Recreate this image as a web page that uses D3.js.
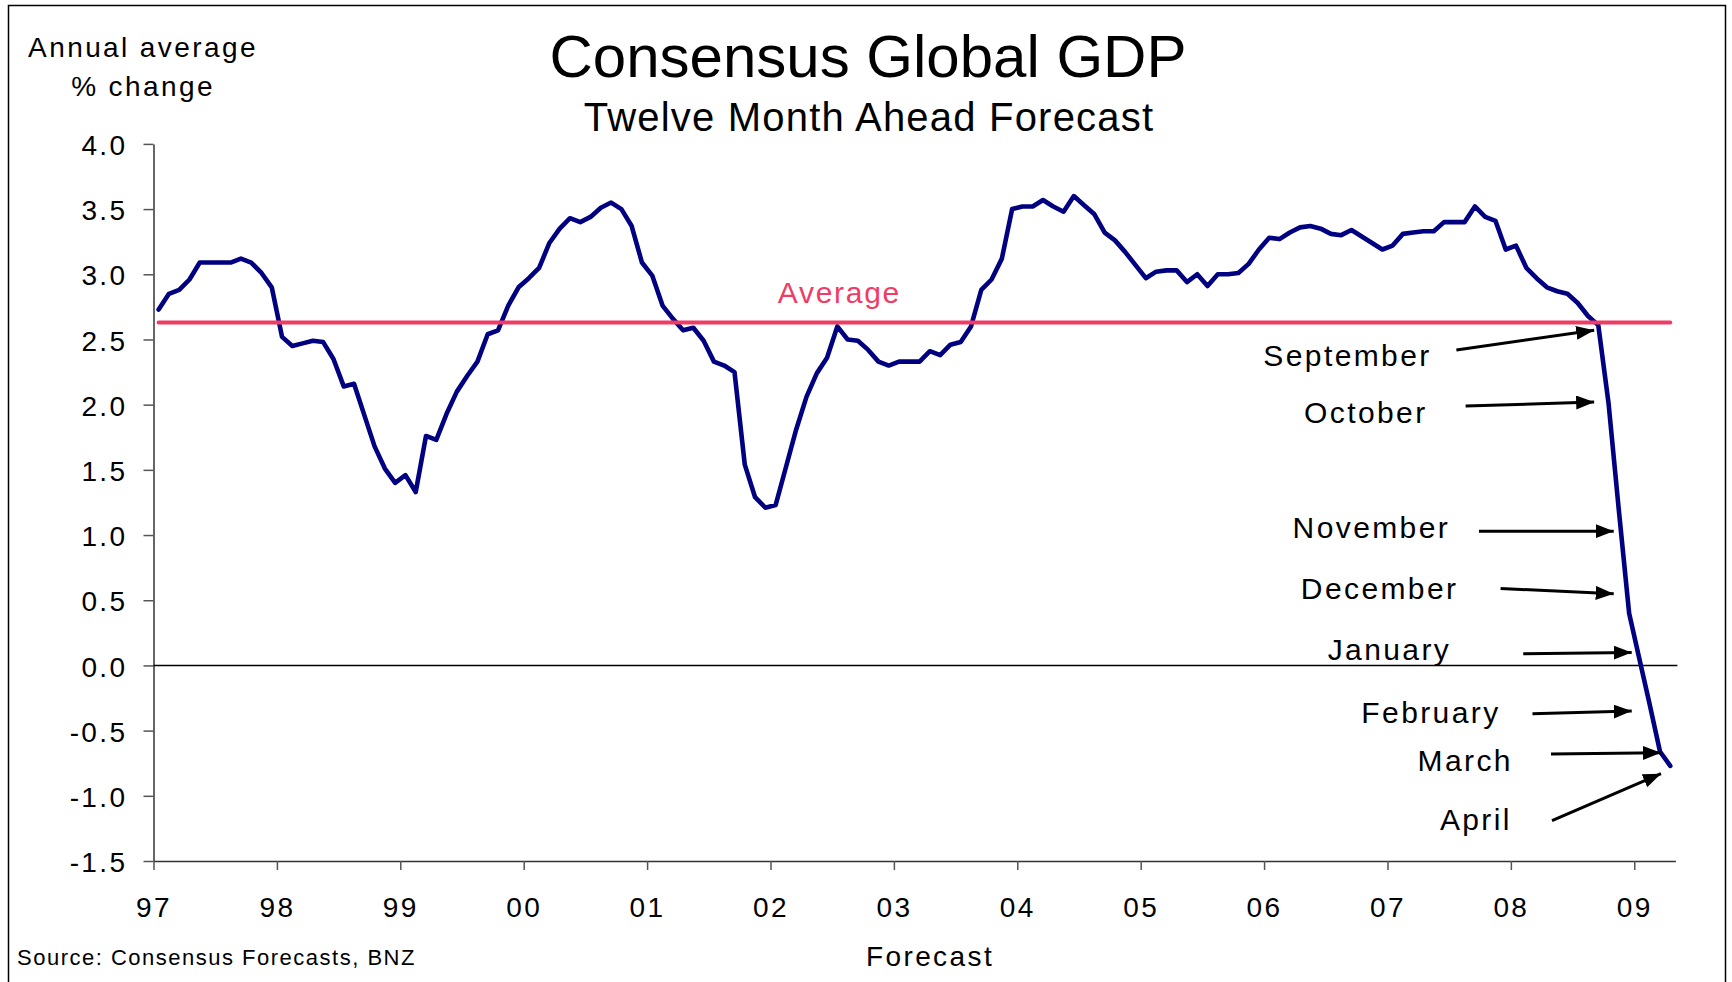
<!DOCTYPE html>
<html>
<head>
<meta charset="utf-8">
<script src="https://cdn.jsdelivr.net/npm/d3@7"></script>
<style>
    body { margin: 0; background: #fff; }
    svg { display: block; font-family: "Liberation Sans", Arial, sans-serif; }
</style>
</head>
<body>
<div id="chart"></div>
<script>
/*
    Consensus Global GDP - twelve month ahead forecast, monthly Jan 97 to Apr 09
*/

// Monthly forecast values (annual average % change), starting January 1997
var gdp = [
    2.73, 2.85, 2.88, 2.96, 3.09, 3.09, 3.09, 3.09, 3.12, 3.09, 3.01, 2.90,   // 97
    2.52, 2.45, 2.47, 2.49, 2.48, 2.35, 2.14, 2.16, 1.92, 1.68, 1.51, 1.40,   // 98
    1.46, 1.33, 1.76, 1.73, 1.93, 2.10, 2.22, 2.33, 2.54, 2.57, 2.76, 2.90,   // 99
    2.97, 3.05, 3.24, 3.35, 3.43, 3.40, 3.44, 3.51, 3.55, 3.50, 3.37, 3.09,   // 00
    2.99, 2.76, 2.66, 2.57, 2.59, 2.49, 2.33, 2.30, 2.25, 1.54, 1.29, 1.21,   // 01
    1.23, 1.52, 1.81, 2.06, 2.24, 2.36, 2.60, 2.50, 2.49, 2.42, 2.33, 2.30,   // 02
    2.33, 2.33, 2.33, 2.41, 2.38, 2.46, 2.48, 2.60, 2.88, 2.96, 3.12, 3.50,   // 03
    3.52, 3.52, 3.57, 3.52, 3.48, 3.60, 3.53, 3.46, 3.32, 3.26, 3.17, 3.07,   // 04
    2.97, 3.02, 3.03, 3.03, 2.94, 3.00, 2.91, 3.00, 3.00, 3.01, 3.08, 3.19,   // 05
    3.28, 3.27, 3.32, 3.36, 3.37, 3.35, 3.31, 3.30, 3.34, 3.29, 3.24, 3.19,   // 06
    3.22, 3.31, 3.32, 3.33, 3.33, 3.40, 3.40, 3.40, 3.52, 3.44, 3.41, 3.19,   // 07
    3.22, 3.05, 2.97, 2.90, 2.87, 2.85, 2.78, 2.68, 2.61, 2.01, 1.19, 0.40,   // 08
    0.05, -0.30, -0.66, -0.77                                                 // 09
];

// Long run average of the series
var average = 2.63;

// Axis ticks
var yearLabels = ["97", "98", "99", "00", "01", "02", "03", "04", "05", "06", "07", "08", "09"];
var yTicks = [-1.5, -1.0, -0.5, 0.0, 0.5, 1.0, 1.5, 2.0, 2.5, 3.0, 3.5, 4.0];

// Month annotations: label, text anchor, arrow start, arrow tip  ([months since Jan 97, value])
var annotLabels = ["September", "October", "November", "December", "January", "February", "March", "April"];
var annotText = [[124.3, 2.30], [123.9, 1.86], [126.1, 0.98], [126.9, 0.51], [126.2, 0.04], [131.0, -0.44], [132.2, -0.81], [132.1, -1.26]];
var annotFrom = [[126.7, 2.42], [127.6, 1.99], [128.9, 1.03], [131.0, 0.59], [133.2, 0.09], [134.1, -0.37], [135.9, -0.68], [136.0, -1.19]];
var annotTo = [[140.1, 2.57], [140.1, 2.02], [142.0, 1.03], [142.0, 0.55], [143.75, 0.10], [143.75, -0.35], [146.6, -0.67], [146.6, -0.83]];

var width = 1732;
var height = 982;

var navy = "#000080";
var pink = "#f03c64";

var svg = d3.select("#chart").append("svg")
    .attr("width", width)
    .attr("height", height);

// Outer frame
svg.append("rect")
    .attr("x", 8.5).attr("y", 5.5)
    .attr("width", 1717).attr("height", 980)
    .attr("fill", "none")
    .attr("stroke", "#000")
    .attr("stroke-width", 1.5);

// Scales (months since Jan 97, axis runs to May 09)
var x = d3.scaleLinear().domain([0, 148]).range([153.5, 1675.4]);
var y = d3.scaleLinear().domain([-1.5, 4]).range([861, 143.9]);

// Titles
svg.append("text")
    .attr("x", 868).attr("y", 77)
    .attr("text-anchor", "middle")
    .style("font-size", "60px")
    .text("Consensus Global GDP");

svg.append("text")
    .attr("x", 869).attr("y", 131)
    .attr("text-anchor", "middle")
    .style("font-size", "40px")
    .style("letter-spacing", "1.2px")
    .text("Twelve Month Ahead Forecast");

svg.append("text")
    .attr("x", 143).attr("y", 57)
    .attr("text-anchor", "middle")
    .style("font-size", "28px")
    .style("letter-spacing", "2.4px")
    .text("Annual average");

svg.append("text")
    .attr("x", 143).attr("y", 96)
    .attr("text-anchor", "middle")
    .style("font-size", "28px")
    .style("letter-spacing", "2.4px")
    .text("% change");

// Y axis (plain hyphen for negatives, as in the original)
var fmt = d3.format(".1f");
var yAxis = svg.append("g")
    .attr("transform", "translate(" + x(0) + ",0)")
    .call(d3.axisLeft(y)
        .tickValues(yTicks)
        .tickFormat(function(d) { return fmt(d).replace("\u2212", "-"); })
        .tickSize(10)
        .tickSizeOuter(0)
        .tickPadding(16));

// X axis
var xAxis = svg.append("g")
    .attr("transform", "translate(0," + y(-1.5) + ")")
    .call(d3.axisBottom(x)
        .tickValues(yearLabels.map(function(d, i) { return i * 12; }))
        .tickFormat(function(d, i) { return yearLabels[i]; })
        .tickSize(9)
        .tickSizeOuter(0)
        .tickPadding(27));

[yAxis, xAxis].forEach(function(axis) {
    axis.attr("font-family", null).attr("font-size", null);
    axis.select(".domain").attr("stroke", "#333").attr("stroke-width", 1.5);
    axis.selectAll(".tick line").attr("stroke", "#555").attr("stroke-width", 1.5);
    axis.selectAll(".tick text")
        .attr("fill", "#000")
        .style("font-size", "28px")
        .style("letter-spacing", "2.4px");
});
yAxis.selectAll(".tick text").attr("dy", "0.38em");

// Zero line
svg.append("line")
    .attr("x1", x(0)).attr("x2", x(148) + 2)
    .attr("y1", y(0)).attr("y2", y(0))
    .attr("stroke", "#000")
    .attr("stroke-width", 1.5);

// Forecast line
var line = d3.line()
    .x(function(d, i) { return x(i + 0.5); })
    .y(function(d) { return y(d); });

svg.append("path")
    .datum(gdp)
    .attr("d", line)
    .attr("fill", "none")
    .attr("stroke", navy)
    .attr("stroke-width", 4.6)
    .attr("stroke-linejoin", "round")
    .attr("stroke-linecap", "round");

// Average line
svg.append("line")
    .attr("x1", x(0.5)).attr("x2", x(gdp.length - 0.5))
    .attr("y1", y(average)).attr("y2", y(average))
    .attr("stroke", pink)
    .attr("stroke-width", 4)
    .attr("stroke-linecap", "round");

svg.append("text")
    .attr("x", x(66.7)).attr("y", y(2.78))
    .attr("text-anchor", "middle")
    .attr("fill", pink)
    .style("font-size", "30px")
    .style("letter-spacing", "1.7px")
    .text("Average");

// Arrow head
svg.append("defs").append("marker")
    .attr("id", "head")
    .attr("markerUnits", "userSpaceOnUse")
    .attr("viewBox", "0 0 18 14")
    .attr("refX", 18).attr("refY", 7)
    .attr("markerWidth", 18).attr("markerHeight", 14)
    .attr("orient", "auto")
    .append("path")
    .attr("d", "M0,0 L18,7 L0,14 Z")
    .attr("fill", "#000");

// Month annotations
var notes = svg.append("g");
annotLabels.forEach(function(label, i) {
    notes.append("text")
        .attr("x", x(annotText[i][0])).attr("y", y(annotText[i][1]))
        .attr("text-anchor", "end")
        .style("font-size", "30px")
        .style("letter-spacing", "2.4px")
        .text(label);

    notes.append("line")
        .attr("x1", x(annotFrom[i][0])).attr("y1", y(annotFrom[i][1]))
        .attr("x2", x(annotTo[i][0])).attr("y2", y(annotTo[i][1]))
        .attr("stroke", "#000")
        .attr("stroke-width", 3)
        .attr("marker-end", "url(#head)");
});

// Axis title and source
svg.append("text")
    .attr("x", 930).attr("y", 966)
    .attr("text-anchor", "middle")
    .style("font-size", "28px")
    .style("letter-spacing", "2.4px")
    .text("Forecast");

svg.append("text")
    .attr("x", 17).attr("y", 965)
    .style("font-size", "22px")
    .style("letter-spacing", "1.5px")
    .text("Source: Consensus Forecasts, BNZ");
</script>
</body>
</html>
